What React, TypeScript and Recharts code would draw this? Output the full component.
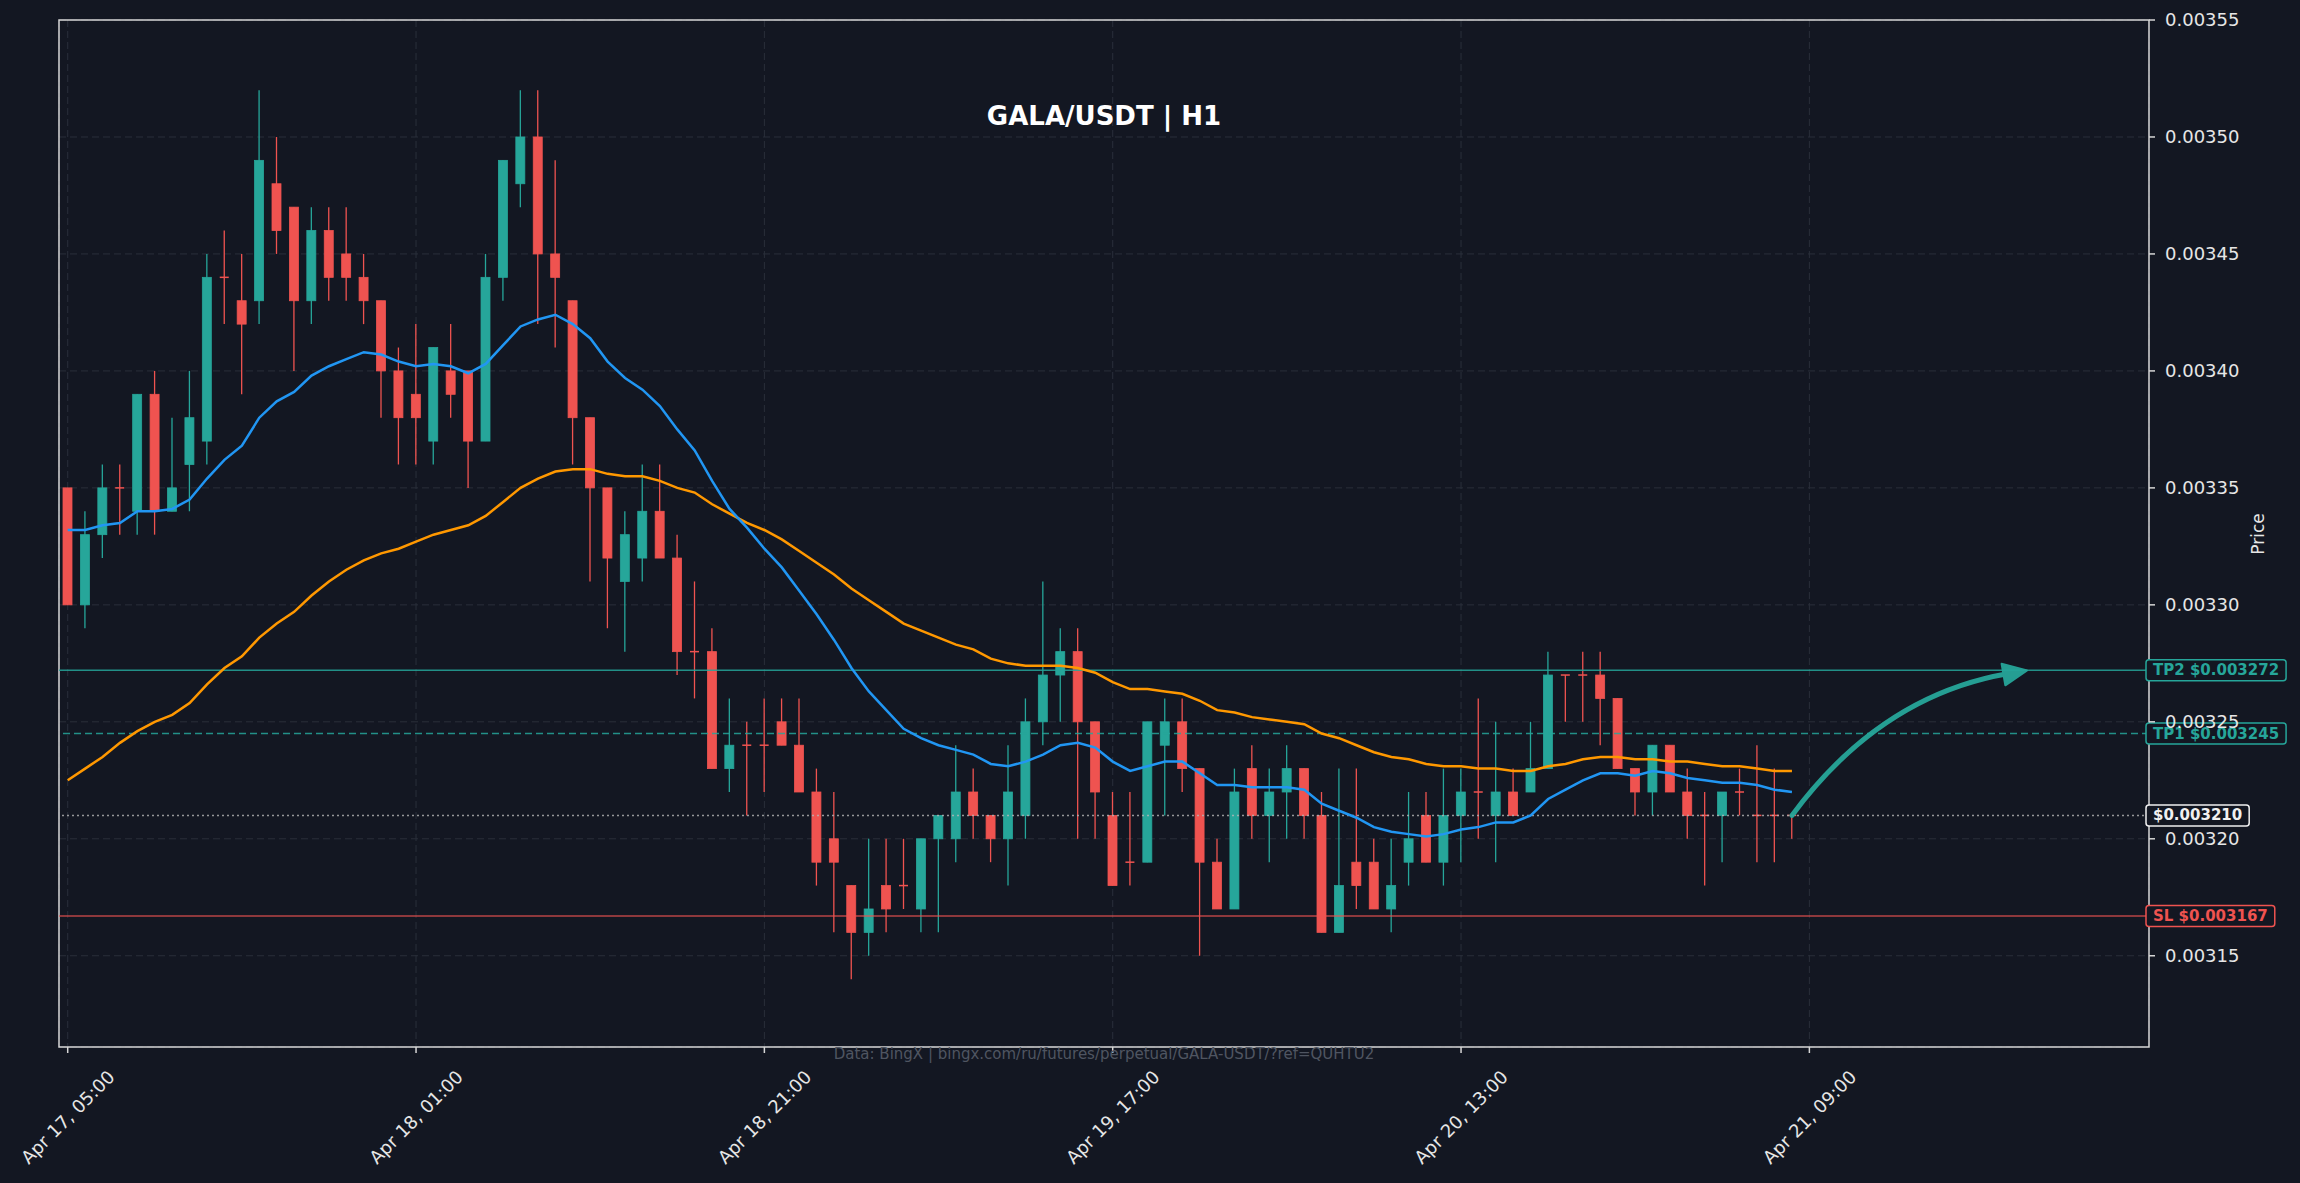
import React from "react";
import {
  Bar,
  CartesianGrid,
  ComposedChart,
  Line,
  ReferenceArea,
  ReferenceLine,
  XAxis,
  YAxis,
} from "recharts";

// hourly candles, Apr 17 05:00 -> Apr 21 08:00
const opens = [
  0.00335, 0.0033, 0.00333, 0.00335, 0.00334, 0.00339, 0.00334, 0.00336, 0.00337, 0.00344,
  0.00343, 0.00343, 0.00348, 0.00347, 0.00343, 0.00346, 0.00345, 0.00344, 0.00343, 0.0034,
  0.00339, 0.00337, 0.0034, 0.0034, 0.00337, 0.00344, 0.00348, 0.0035, 0.00345, 0.00343,
  0.00338, 0.00335, 0.00331, 0.00332, 0.00334, 0.00332, 0.00328, 0.00328, 0.00323, 0.00324,
  0.00324, 0.00325, 0.00324, 0.00322, 0.0032, 0.00318, 0.00316, 0.00318, 0.00318, 0.00317,
  0.0032, 0.0032, 0.00322, 0.00321, 0.0032, 0.00321, 0.00325, 0.00327, 0.00328, 0.00325,
  0.00321, 0.00319, 0.00319, 0.00324, 0.00325, 0.00323, 0.00319, 0.00317, 0.00323, 0.00321,
  0.00322, 0.00323, 0.00321, 0.00316, 0.00319, 0.00319, 0.00317, 0.00319, 0.00321, 0.00319,
  0.00321, 0.00322, 0.00321, 0.00322, 0.00322, 0.00323, 0.00327, 0.00327, 0.00327, 0.00326,
  0.00323, 0.00322, 0.00324, 0.00322, 0.00321, 0.00321, 0.00322, 0.00321, 0.00321, 0.00321,
];
const highs = [
  0.00335, 0.00334, 0.00336, 0.00336, 0.00339, 0.0034, 0.00338, 0.0034, 0.00345, 0.00346,
  0.00345, 0.00352, 0.0035, 0.00347, 0.00347, 0.00347, 0.00347, 0.00345, 0.00343, 0.00341,
  0.00342, 0.00341, 0.00342, 0.0034, 0.00345, 0.00349, 0.00352, 0.00352, 0.00349, 0.00343,
  0.00338, 0.00335, 0.00334, 0.00336, 0.00336, 0.00333, 0.00331, 0.00329, 0.00326, 0.00325,
  0.00326, 0.00326, 0.00326, 0.00323, 0.00322, 0.00318, 0.0032, 0.0032, 0.0032, 0.0032,
  0.00321, 0.00324, 0.00323, 0.00321, 0.00324, 0.00326, 0.00331, 0.00329, 0.00329, 0.00325,
  0.00322, 0.00322, 0.00325, 0.00326, 0.00326, 0.00323, 0.0032, 0.00323, 0.00324, 0.00323,
  0.00324, 0.00323, 0.00322, 0.00323, 0.00323, 0.0032, 0.0032, 0.00322, 0.00322, 0.00323,
  0.00323, 0.00326, 0.00325, 0.00323, 0.00325, 0.00328, 0.00327, 0.00328, 0.00328, 0.00326,
  0.00323, 0.00324, 0.00324, 0.00323, 0.00322, 0.00322, 0.00323, 0.00324, 0.00323, 0.00321,
];
const lows = [
  0.0033, 0.00329, 0.00332, 0.00333, 0.00333, 0.00333, 0.00334, 0.00334, 0.00336, 0.00342,
  0.00339, 0.00342, 0.00345, 0.0034, 0.00342, 0.00343, 0.00343, 0.00342, 0.00338, 0.00336,
  0.00336, 0.00336, 0.00338, 0.00335, 0.00337, 0.00343, 0.00347, 0.00342, 0.00341, 0.00336,
  0.00331, 0.00329, 0.00328, 0.00331, 0.00332, 0.00327, 0.00326, 0.00323, 0.00322, 0.00321,
  0.00322, 0.00324, 0.00322, 0.00318, 0.00316, 0.00314, 0.00315, 0.00316, 0.00317, 0.00316,
  0.00316, 0.00319, 0.0032, 0.00319, 0.00318, 0.0032, 0.00324, 0.00325, 0.0032, 0.0032,
  0.00318, 0.00318, 0.00319, 0.00321, 0.00322, 0.00315, 0.00317, 0.00317, 0.0032, 0.00319,
  0.0032, 0.0032, 0.00316, 0.00316, 0.00317, 0.00317, 0.00316, 0.00318, 0.00319, 0.00318,
  0.00319, 0.0032, 0.00319, 0.00321, 0.00322, 0.00323, 0.00325, 0.00325, 0.00324, 0.00323,
  0.00321, 0.00321, 0.00322, 0.0032, 0.00318, 0.00319, 0.00321, 0.00319, 0.00319, 0.0032,
];
const closes = [
  0.0033, 0.00333, 0.00335, 0.00335, 0.00339, 0.00334, 0.00335, 0.00338, 0.00344, 0.00344,
  0.00342, 0.00349, 0.00346, 0.00343, 0.00346, 0.00344, 0.00344, 0.00343, 0.0034, 0.00338,
  0.00338, 0.00341, 0.00339, 0.00337, 0.00344, 0.00349, 0.0035, 0.00345, 0.00344, 0.00338,
  0.00335, 0.00332, 0.00333, 0.00334, 0.00332, 0.00328, 0.00328, 0.00323, 0.00324, 0.00324,
  0.00324, 0.00324, 0.00322, 0.00319, 0.00319, 0.00316, 0.00317, 0.00317, 0.00318, 0.0032,
  0.00321, 0.00322, 0.00321, 0.0032, 0.00322, 0.00325, 0.00327, 0.00328, 0.00325, 0.00322,
  0.00318, 0.00319, 0.00325, 0.00325, 0.00323, 0.00319, 0.00317, 0.00322, 0.00321, 0.00322,
  0.00323, 0.00321, 0.00316, 0.00318, 0.00318, 0.00317, 0.00318, 0.0032, 0.00319, 0.00321,
  0.00322, 0.00322, 0.00322, 0.00321, 0.00323, 0.00327, 0.00327, 0.00327, 0.00326, 0.00323,
  0.00322, 0.00324, 0.00322, 0.00321, 0.00321, 0.00322, 0.00322, 0.00321, 0.00321, 0.00321,
];
// moving averages as drawn (blue fast, orange slow)
const maFast = [
  0.003332, 0.003332, 0.003334, 0.003335, 0.00334, 0.00334, 0.003341, 0.003345, 0.003354, 0.003362,
  0.003368, 0.00338, 0.003387, 0.003391, 0.003398, 0.003402, 0.003405, 0.003408, 0.003407, 0.003404,
  0.003402, 0.003403, 0.003402, 0.003399, 0.003403, 0.003411, 0.003419, 0.003422, 0.003424, 0.00342,
  0.003414, 0.003404, 0.003397, 0.003392, 0.003385, 0.003375, 0.003366, 0.003353, 0.003341, 0.003333,
  0.003324, 0.003316, 0.003306, 0.003296, 0.003285, 0.003273, 0.003263, 0.003255, 0.003247, 0.003243,
  0.00324, 0.003238, 0.003236, 0.003232, 0.003231, 0.003233, 0.003236, 0.00324, 0.003241, 0.003239,
  0.003233, 0.003229, 0.003231, 0.003233, 0.003233, 0.003228, 0.003223, 0.003223, 0.003222, 0.003222,
  0.003222, 0.003221, 0.003215, 0.003212, 0.003209, 0.003205, 0.003203, 0.003202, 0.003201, 0.003202,
  0.003204, 0.003205, 0.003207, 0.003207, 0.00321, 0.003217, 0.003221, 0.003225, 0.003228, 0.003228,
  0.003227, 0.003229, 0.003228, 0.003226, 0.003225, 0.003224, 0.003224, 0.003223, 0.003221, 0.00322,
];
const maSlow = [
  0.003225, 0.00323, 0.003235, 0.003241, 0.003246, 0.00325, 0.003253, 0.003258, 0.003266, 0.003273,
  0.003278, 0.003286, 0.003292, 0.003297, 0.003304, 0.00331, 0.003315, 0.003319, 0.003322, 0.003324,
  0.003327, 0.00333, 0.003332, 0.003334, 0.003338, 0.003344, 0.00335, 0.003354, 0.003357, 0.003358,
  0.003358, 0.003356, 0.003355, 0.003355, 0.003353, 0.00335, 0.003348, 0.003343, 0.003339, 0.003335,
  0.003332, 0.003328, 0.003323, 0.003318, 0.003313, 0.003307, 0.003302, 0.003297, 0.003292, 0.003289,
  0.003286, 0.003283, 0.003281, 0.003277, 0.003275, 0.003274, 0.003274, 0.003274, 0.003273, 0.003271,
  0.003267, 0.003264, 0.003264, 0.003263, 0.003262, 0.003259, 0.003255, 0.003254, 0.003252, 0.003251,
  0.00325, 0.003249, 0.003245, 0.003243, 0.00324, 0.003237, 0.003235, 0.003234, 0.003232, 0.003231,
  0.003231, 0.00323, 0.00323, 0.003229, 0.003229, 0.003231, 0.003232, 0.003234, 0.003235, 0.003235,
  0.003234, 0.003234, 0.003233, 0.003233, 0.003232, 0.003231, 0.003231, 0.00323, 0.003229, 0.003229,
];

const timeTicks = [0, 20, 40, 60, 80, 100];
const timeLabels = [
  "Apr 17, 05:00",
  "Apr 18, 01:00",
  "Apr 18, 21:00",
  "Apr 19, 17:00",
  "Apr 20, 13:00",
  "Apr 21, 09:00",
];
const priceTicks = [0.00315, 0.0032, 0.00325, 0.0033, 0.00335, 0.0034, 0.00345, 0.0035, 0.00355];
const priceDomain = [0.003111, 0.00355];
const timeDomain = [-0.5, 119.5];

const tp2 = 0.003272;
const tp1 = 0.003245;
const lastPrice = 0.00321;
const stopLoss = 0.003167;
const arrowEndIndex = 112.5;

const BG = "#131722";
const UP = "#26a69a";
const DOWN = "#ef5350";
const FONT = "DejaVu Sans";

const rows = opens.map((o, i) => ({
  i,
  range: [lows[i], highs[i]],
  open: o,
  high: highs[i],
  low: lows[i],
  close: closes[i],
  maFast: maFast[i],
  maSlow: maSlow[i],
}));

function Candle(props: any) {
  const { x, y, width, height, payload } = props;
  if (!payload) return null;
  const top = Math.min(y, y + height);
  const bot = Math.max(y, y + height);
  const span = payload.high - payload.low;
  const k = span > 0 ? (bot - top) / span : 0;
  const color = payload.close > payload.open ? UP : DOWN;
  const cx = x + width / 2;
  const bTop = top + (payload.high - Math.max(payload.open, payload.close)) * k;
  const bBot = top + (payload.high - Math.min(payload.open, payload.close)) * k;
  return (
    <g>
      <line x1={cx} x2={cx} y1={top} y2={bot} stroke={color} strokeWidth={1.3} />
      {bBot - bTop < 1 ? (
        <line x1={x} x2={x + width} y1={bTop} y2={bTop} stroke={color} strokeWidth={1.5} />
      ) : (
        <rect x={x} y={bTop} width={width} height={bBot - bTop} fill={color} stroke={color} strokeWidth={0.8} />
      )}
    </g>
  );
}

let measureCtx: CanvasRenderingContext2D | null = null;
function textWidth(text: string, font: string) {
  if (!measureCtx) measureCtx = document.createElement("canvas").getContext("2d");
  if (!measureCtx) return text.length * 9;
  measureCtx.font = font;
  return measureCtx.measureText(text).width;
}

function PriceTag({ viewBox, text, color }: any) {
  if (!viewBox) return null;
  const right = viewBox.x + viewBox.width;
  const cy = viewBox.y;
  const w = textWidth(text, `bold 15px '${FONT}'`) + 14;
  return (
    <g>
      <rect x={right - 3} y={cy - 10.5} width={w} height={21} rx={3} fill={BG} stroke={color} strokeWidth={1.5} />
      <text
        x={right + 4}
        y={cy}
        dominantBaseline="central"
        fill={color}
        fontSize={15}
        fontWeight="bold"
        fontFamily={FONT}
      >
        {text}
      </text>
    </g>
  );
}

function CurvedArrow(props: any) {
  const { x1, y1, x2, y2 } = props;
  if ([x1, y1, x2, y2].some((v) => typeof v !== "number")) return null;
  const rad = -0.2;
  const dx = x2 - x1;
  const dy = y2 - y1;
  const cx = (x1 + x2) / 2 + -rad * dy;
  const cy = (y1 + y2) / 2 + rad * dx;
  const tx = x2 - cx;
  const ty = y2 - cy;
  const len = Math.hypot(tx, ty) || 1;
  const ux = tx / len;
  const uy = ty / len;
  const head = 24;
  const half = 11;
  const bx = x2 - ux * head;
  const by = y2 - uy * head;
  return (
    <g opacity={0.95}>
      <path
        d={`M${x1},${y1} Q${cx},${cy} ${bx + ux * 4},${by + uy * 4}`}
        fill="none"
        stroke={UP}
        strokeWidth={5}
        strokeLinecap="round"
      />
      <path
        d={`M${x2},${y2} L${bx - uy * half},${by + ux * half} L${bx + uy * half},${by - ux * half} Z`}
        fill={UP}
        stroke={UP}
        strokeWidth={2}
        strokeLinejoin="round"
      />
    </g>
  );
}

function TimeTick(props: any) {
  const { x, y, payload } = props;
  const label = timeLabels[timeTicks.indexOf(payload.value)] ?? "";
  const cy = y + 62;
  return (
    <text
      x={x}
      y={cy}
      transform={`rotate(-45 ${x} ${cy})`}
      textAnchor="middle"
      dominantBaseline="central"
      fill="#e6e6e6"
      fontSize={18}
      fontFamily={FONT}
    >
      {label}
    </text>
  );
}

export default function App() {
  return (
    <div
      style={{
        position: "absolute",
        left: 0,
        top: 0,
        width: 2300,
        height: 1183,
        background: BG,
        fontFamily: FONT,
        overflow: "hidden",
      }}
    >
      <ComposedChart
        width={2300}
        height={1183}
        data={rows}
        margin={{ top: 20, right: 0, bottom: 0, left: 59 }}
      >
        <CartesianGrid stroke="#2a2f3a" strokeDasharray="7 4" strokeWidth={1} />
        <XAxis
          dataKey="i"
          type="number"
          domain={timeDomain}
          ticks={timeTicks}
          interval={0}
          allowDataOverflow
          height={136}
          axisLine={false}
          tickLine={{ stroke: "#d6d6d6", strokeWidth: 1.5 }}
          tickSize={6}
          tick={<TimeTick />}
        />
        <YAxis
          orientation="right"
          type="number"
          domain={priceDomain}
          ticks={priceTicks}
          interval={0}
          allowDataOverflow
          width={151}
          axisLine={false}
          tickLine={{ stroke: "#d6d6d6", strokeWidth: 1.5 }}
          tickSize={6}
          tickMargin={10}
          tickFormatter={(v: number) => v.toFixed(5)}
          tick={{ fill: "#e6e6e6", fontSize: 18, fontFamily: FONT }}
        />
        <ReferenceLine y={tp2} stroke={UP} strokeOpacity={0.85} strokeWidth={1.5} />
        <ReferenceLine y={tp1} stroke={UP} strokeOpacity={0.85} strokeWidth={1.5} strokeDasharray="7 4" />
        <ReferenceLine y={lastPrice} stroke="#b8b8b8" strokeOpacity={0.8} strokeWidth={1.5} strokeDasharray="2 3" />
        <ReferenceLine y={stopLoss} stroke={DOWN} strokeOpacity={0.75} strokeWidth={1.5} />
        <Bar dataKey="range" barSize={9} isAnimationActive={false} shape={<Candle />} />
        <Line dataKey="maSlow" stroke="#ff9800" strokeWidth={2.5} dot={false} activeDot={false} isAnimationActive={false} />
        <Line dataKey="maFast" stroke="#2196f3" strokeWidth={2.5} dot={false} activeDot={false} isAnimationActive={false} />
        <ReferenceArea
          x1={timeDomain[0]}
          x2={timeDomain[1]}
          y1={priceDomain[0]}
          y2={priceDomain[1]}
          fill="none"
          fillOpacity={0}
          stroke="#d6d6d6"
          strokeWidth={1.5}
          ifOverflow="extendDomain"
        />
        <ReferenceLine
          segment={[
            { x: rows.length - 1, y: lastPrice },
            { x: arrowEndIndex, y: tp2 },
          ]}
          shape={(p: any) => <CurvedArrow {...p} />}
        />
        <ReferenceLine
          y={tp2}
          stroke="none"
          label={(p: any) => <PriceTag viewBox={p.viewBox} color={UP} text={`TP2 $${tp2.toFixed(6)}`} />}
        />
        <ReferenceLine
          y={tp1}
          stroke="none"
          label={(p: any) => <PriceTag viewBox={p.viewBox} color={UP} text={`TP1 $${tp1.toFixed(6)}`} />}
        />
        <ReferenceLine
          y={lastPrice}
          stroke="none"
          label={(p: any) => <PriceTag viewBox={p.viewBox} color="#f0f0f0" text={`$${lastPrice.toFixed(6)}`} />}
        />
        <ReferenceLine
          y={stopLoss}
          stroke="none"
          label={(p: any) => <PriceTag viewBox={p.viewBox} color={DOWN} text={`SL $${stopLoss.toFixed(6)}`} />}
        />
      </ComposedChart>
      <div
        style={{
          position: "absolute",
          left: 1104,
          top: 116,
          transform: "translate(-50%, -50%)",
          color: "#ffffff",
          fontWeight: "bold",
          fontSize: 26,
          whiteSpace: "nowrap",
        }}
      >
        GALA/USDT | H1
      </div>
      <div
        style={{
          position: "absolute",
          left: 1104,
          top: 1054,
          transform: "translate(-50%, -50%)",
          color: "#4f5561",
          fontSize: 15,
          whiteSpace: "nowrap",
        }}
      >
        Data: BingX | bingx.com/ru/futures/perpetual/GALA-USDT/?ref=QUHTU2
      </div>
      <div
        style={{
          position: "absolute",
          left: 2258,
          top: 534,
          transform: "translate(-50%, -50%) rotate(-90deg)",
          color: "#e6e6e6",
          fontSize: 17,
          whiteSpace: "nowrap",
        }}
      >
        Price
      </div>
    </div>
  );
}
